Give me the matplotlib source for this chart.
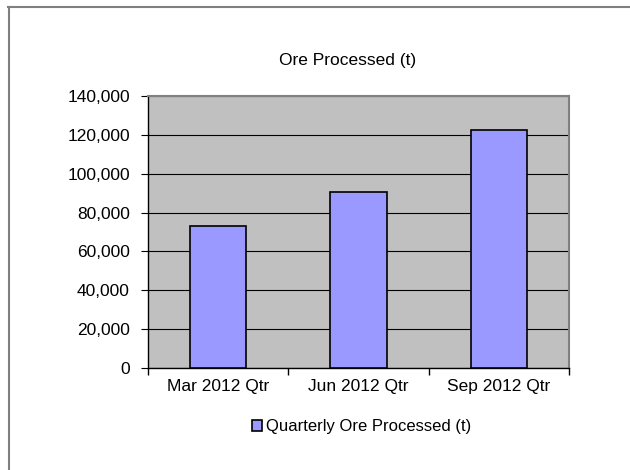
import matplotlib.pyplot as plt
from matplotlib.lines import Line2D
from matplotlib.patches import Patch
from matplotlib.ticker import FuncFormatter

quarters = ["Mar 2012 Qtr", "Jun 2012 Qtr", "Sep 2012 Qtr"]
ore = [73000, 90600, 122400]

plt.rcParams['font.family'] = ['Liberation Sans', 'DejaVu Sans']

fig = plt.figure(figsize=(6.3, 4.7), dpi=100)
ax = fig.add_axes([148/630, 1-368/470, 421/630, 272/470])
ax.set_facecolor("#C0C0C0")

x = range(len(quarters))
ax.bar(x, ore, 0.4, color="#9999FF", edgecolor="black", linewidth=1.2, zorder=3)

ax.set_ylim(0, 140000)
ax.set_xlim(-0.5, 2.5)
ax.set_yticks(range(0, 140001, 20000))
ax.yaxis.set_major_formatter(FuncFormatter(lambda v, p: f"{int(v):,}"))
ax.set_xticks(list(x))
ax.set_xticklabels(quarters)
ax.set_xticks([-0.5, 0.5, 1.5, 2.5], minor=True)
ax.tick_params(axis="x", which="major", length=0, labelsize=12.5, pad=8)
ax.tick_params(axis="x", which="minor", length=5, direction="out", width=1)
ax.tick_params(axis="y", length=5, direction="out", labelsize=12.5, pad=8)
ax.grid(axis="y", color="black", linewidth=0.8, zorder=1)

for s in ["top", "right"]:
    ax.spines[s].set_color("#808080")
    ax.spines[s].set_linewidth(1.5)
for s in ["left", "bottom"]:
    ax.spines[s].set_color("black")
    ax.spines[s].set_linewidth(1)

fig.text(348/630, 1-60/470, "Ore Processed (t)", ha="center", va="center", fontsize=12.5)

handle = Patch(facecolor="#9999FF", edgecolor="black", linewidth=1.2)
fig.legend([handle], ["Quarterly Ore Processed (t)"], loc="center",
           bbox_to_anchor=(362/630, 1-427/470), frameon=False, fontsize=12,
           handlelength=0.6, handleheight=0.6, handletextpad=0.25)

# outer chart frame (only top and left edges visible)
fig.add_artist(Line2D([8/630, 1], [1-6.5/470, 1-6.5/470], color="#808080", linewidth=1.5))
fig.add_artist(Line2D([8.5/630, 8.5/630], [0, 1-6.5/470], color="#808080", linewidth=1.5))

fig.savefig("out.png", dpi=100)
